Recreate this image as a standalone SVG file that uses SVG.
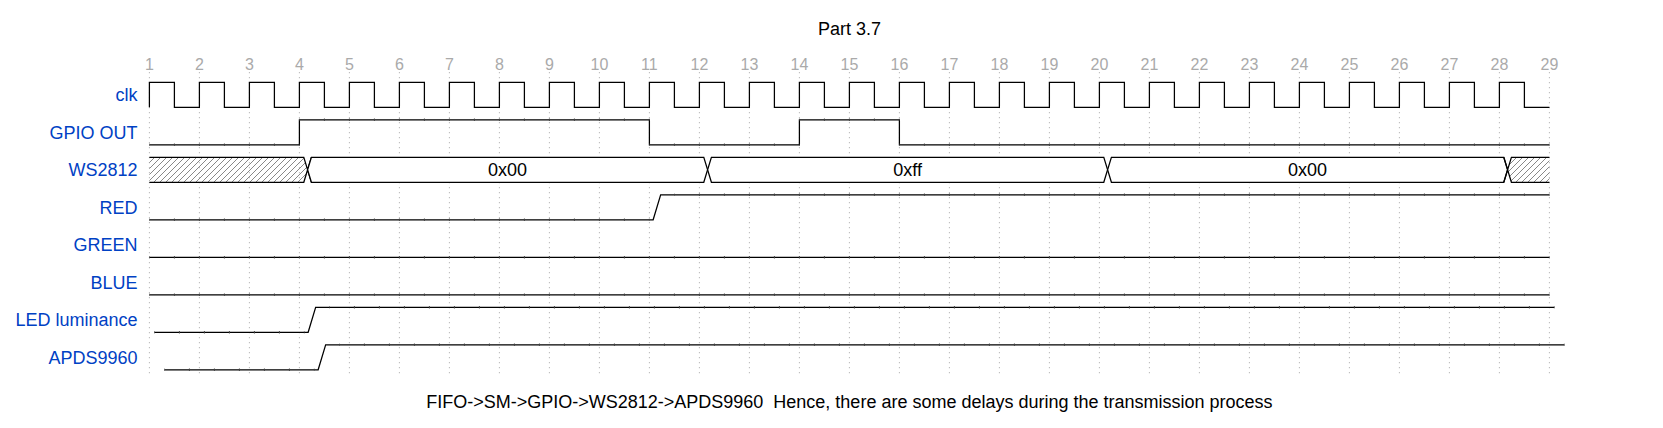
<svg xmlns="http://www.w3.org/2000/svg" width="1663" height="428" viewBox="0 0 1663 428">
<style>
text{font-family:"Liberation Sans",Arial,sans-serif}
.w{fill:none;stroke:#000;stroke-width:1.25}
.bus{fill:#fff;stroke:#000;stroke-width:1.25}
.hx{fill:url(#hatch);stroke:none}
.g{stroke:#888;stroke-width:0.6;stroke-dasharray:1.25 3.75}
.n{font-size:16px;fill:#aaa;text-anchor:middle}
.l{font-size:18px;fill:#0041c4;text-anchor:end}
.d{font-size:18px;fill:#000;text-anchor:middle}
.tk{fill:none;stroke:#444;stroke-width:2.5;stroke-dasharray:1 24;stroke-dashoffset:0.5}
</style>
<defs>
<pattern id="hatch" patternUnits="userSpaceOnUse" width="6" height="6">
<path d="M0,6L6,0M-1,1L1,-1M5,7L7,5" stroke="#888" stroke-width="1"/>
</pattern>
</defs>
<rect width="1663" height="428" fill="#fff"/>
<text id="title" class="d" x="849.4" y="35">Part 3.7</text>
<g id="grid">
<path class="g" d="M149.4,72V375M199.4,72V375M249.4,72V375M299.4,72V375M349.4,72V375M399.4,72V375M449.4,72V375M499.4,72V375M549.4,72V375M599.4,72V375M649.4,72V375M699.4,72V375M749.4,72V375M799.4,72V375M849.4,72V375M899.4,72V375M949.4,72V375M999.4,72V375M1049.4,72V375M1099.4,72V375M1149.4,72V375M1199.4,72V375M1249.4,72V375M1299.4,72V375M1349.4,72V375M1399.4,72V375M1449.4,72V375M1499.4,72V375M1549.4,72V375"/>
<text class="n" x="149.4" y="70">1</text><text class="n" x="199.4" y="70">2</text><text class="n" x="249.4" y="70">3</text><text class="n" x="299.4" y="70">4</text><text class="n" x="349.4" y="70">5</text><text class="n" x="399.4" y="70">6</text><text class="n" x="449.4" y="70">7</text><text class="n" x="499.4" y="70">8</text><text class="n" x="549.4" y="70">9</text><text class="n" x="599.4" y="70">10</text><text class="n" x="649.4" y="70">11</text><text class="n" x="699.4" y="70">12</text><text class="n" x="749.4" y="70">13</text><text class="n" x="799.4" y="70">14</text><text class="n" x="849.4" y="70">15</text><text class="n" x="899.4" y="70">16</text><text class="n" x="949.4" y="70">17</text><text class="n" x="999.4" y="70">18</text><text class="n" x="1049.4" y="70">19</text><text class="n" x="1099.4" y="70">20</text><text class="n" x="1149.4" y="70">21</text><text class="n" x="1199.4" y="70">22</text><text class="n" x="1249.4" y="70">23</text><text class="n" x="1299.4" y="70">24</text><text class="n" x="1349.4" y="70">25</text><text class="n" x="1399.4" y="70">26</text><text class="n" x="1449.4" y="70">27</text><text class="n" x="1499.4" y="70">28</text><text class="n" x="1549.4" y="70">29</text>
</g>
<g id="lane-clk">
<text class="l" x="137.5" y="101">clk</text>
<path class="w" d="M149.4,107.3v-25h25v25h25v-25h25v25h25v-25h25v25h25v-25h25v25h25v-25h25v25h25v-25h25v25h25v-25h25v25h25v-25h25v25h25v-25h25v25h25v-25h25v25h25v-25h25v25h25v-25h25v25h25v-25h25v25h25v-25h25v25h25v-25h25v25h25v-25h25v25h25v-25h25v25h25v-25h25v25h25v-25h25v25h25v-25h25v25h25v-25h25v25h25v-25h25v25h25v-25h25v25h25v-25h25v25h25v-25h25v25h25v-25h25v25h25v-25h25v25h25v-25h25v25h25"/>
</g>
<g id="lane-gpio">
<text class="l" x="137.5" y="138.5">GPIO OUT</text>
<path class="w" d="M149.4,144.8H299.4V119.8H649.4V144.8H799.4V119.8H899.4V144.8H1549.4"/>
<path class="tk" d="M149.4,144.8H299.4M299.4,119.8H649.4M649.4,144.8H799.4M799.4,119.8H899.4M899.4,144.8H1549.4"/>
</g>
<g id="lane-ws2812">
<text class="l" x="137.5" y="176">WS2812</text>
<path class="hx" d="M149.4,157.3H303.8L307.6,169.8L303.8,182.3H149.4Z"/>
<path class="w" d="M149.4,157.3H303.8L311.4,182.3M149.4,182.3H303.8L311.4,157.3"/>
<path class="bus" d="M307.6,169.8L311.4,157.3H703.8L707.6,169.8L703.8,182.3H311.4Z"/>
<path class="bus" d="M707.6,169.8L711.4,157.3H1103.8L1107.6,169.8L1103.8,182.3H711.4Z"/>
<path class="bus" d="M1107.6,169.8L1111.4,157.3H1503.8L1507.6,169.8L1503.8,182.3H1111.4Z"/>
<path class="hx" d="M1549.4,157.3H1511.4L1507.6,169.8L1511.4,182.3H1549.4Z"/>
<path class="w" d="M1549.4,157.3H1511.4L1503.8,182.3M1549.4,182.3H1511.4L1503.8,157.3"/>
<text class="d" x="507.6" y="176">0x00</text>
<text class="d" x="907.6" y="176">0xff</text>
<text class="d" x="1307.6" y="176">0x00</text>
</g>
<g id="lane-red">
<text class="l" x="137.5" y="213.5">RED</text>
<path class="w" d="M149.4,219.8H653.15L660.65,194.8H1549.4"/>
<path class="tk" d="M149.4,219.8H649.4M674.4,194.8H1549.4"/>
</g>
<g id="lane-green">
<text class="l" x="137.5" y="251">GREEN</text>
<path class="w" d="M149.4,257.3H1549.4"/>
<path class="tk" d="M149.4,257.3H1549.4"/>
</g>
<g id="lane-blue">
<text class="l" x="137.5" y="288.5">BLUE</text>
<path class="w" d="M149.4,294.8H1549.4"/>
<path class="tk" d="M149.4,294.8H1549.4"/>
</g>
<g id="lane-led">
<text class="l" x="137.5" y="326">LED luminance</text>
<path class="w" d="M154.4,332.3H308.15L315.65,307.3H1554.4"/>
<path class="tk" d="M154.4,332.3H304.4M329.4,307.3H1554.4"/>
</g>
<g id="lane-apds">
<text class="l" x="137.5" y="363.5">APDS9960</text>
<path class="w" d="M164.4,369.8H318.15L325.65,344.8H1564.4"/>
<path class="tk" d="M164.4,369.8H314.4M339.4,344.8H1564.4"/>
</g>
<g id="connectors"/>
<text id="footer" class="d" x="849.4" y="408" xml:space="preserve">FIFO-&gt;SM-&gt;GPIO-&gt;WS2812-&gt;APDS9960  Hence, there are some delays during the transmission process</text>
</svg>
